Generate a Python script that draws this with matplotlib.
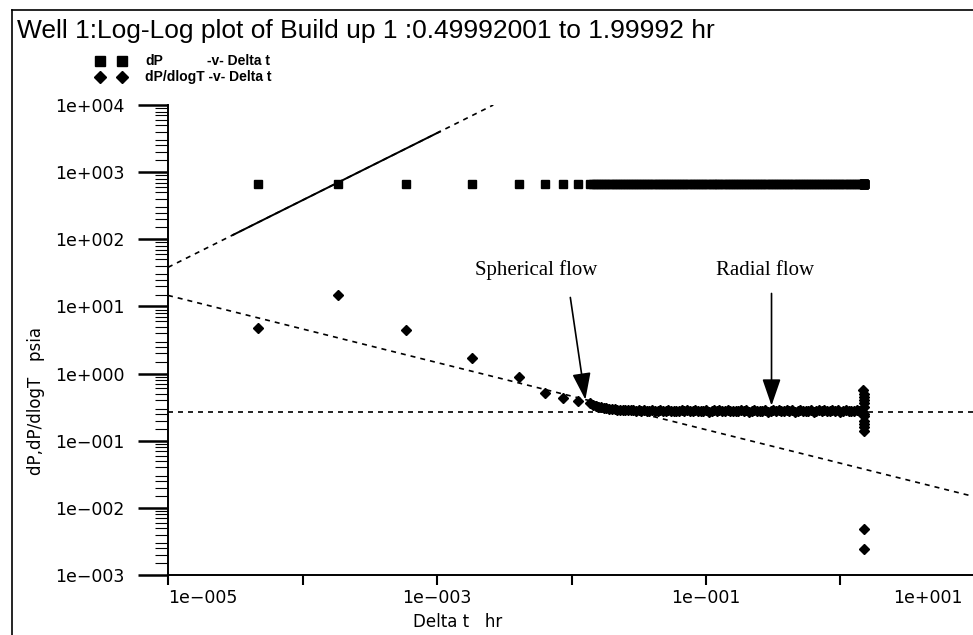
import matplotlib
matplotlib.use('Agg')
import matplotlib.pyplot as plt
from matplotlib.lines import Line2D
from matplotlib.ticker import FixedLocator, LogLocator, NullFormatter
import matplotlib.transforms as mtransforms

plt.rcParams['font.family'] = ['DejaVu Sans']

# 数据：早期采样点
t_early = [4.67e-5, 1.84e-4, 5.89e-4, 1.82e-3, 4.07e-3, 6.36e-3, 8.65e-3, 1.12e-2]
dp_early = [660, 660, 660, 660, 660, 660, 660, 660]
der_early = [4.7, 14.6, 4.4, 1.71, 0.90, 0.52, 0.44, 0.395]

# 后期密集采样点
t_late = [0.0138, 0.0145, 0.0151, 0.0158, 0.0166, 0.0174, 0.0182, 0.0190, 0.0199, 0.0209,
          0.0219, 0.0229, 0.0240, 0.0251, 0.0263, 0.0275, 0.0288, 0.0302, 0.0316, 0.0331,
          0.0347, 0.0363, 0.0380, 0.0398, 0.0417, 0.0437, 0.0457, 0.0479, 0.0501, 0.0525,
          0.0550, 0.0575, 0.0603, 0.0631, 0.0661, 0.0692, 0.0724, 0.0759, 0.0794, 0.0832,
          0.0871, 0.0912, 0.0955, 0.100, 0.105, 0.110, 0.115, 0.120, 0.126, 0.132,
          0.138, 0.145, 0.151, 0.158, 0.166, 0.174, 0.182, 0.191, 0.200, 0.209,
          0.219, 0.229, 0.240, 0.251, 0.263, 0.275, 0.288, 0.302, 0.316, 0.331,
          0.347, 0.363, 0.380, 0.398, 0.417, 0.437, 0.457, 0.479, 0.501, 0.525,
          0.550, 0.575, 0.603, 0.631, 0.661, 0.692, 0.724, 0.759, 0.794, 0.832,
          0.871, 0.912, 0.955, 1.00, 1.05, 1.10, 1.15, 1.20, 1.26, 1.32,
          1.38, 1.45]
der_late = [0.360, 0.345, 0.333, 0.322, 0.314, 0.308, 0.303, 0.299, 0.296, 0.293,
            0.290, 0.288, 0.286, 0.289, 0.284, 0.282, 0.286, 0.281, 0.284, 0.279,
            0.283, 0.277, 0.281, 0.285, 0.276, 0.280, 0.283, 0.275, 0.279, 0.284,
            0.277, 0.281, 0.274, 0.279, 0.285, 0.276, 0.282, 0.273, 0.280, 0.286,
            0.275, 0.281, 0.277, 0.284, 0.272, 0.279, 0.285, 0.276, 0.282, 0.274,
            0.280, 0.286, 0.275, 0.281, 0.273, 0.279, 0.285, 0.276, 0.283, 0.272,
            0.279, 0.286, 0.274, 0.281, 0.277, 0.284, 0.272, 0.280, 0.286, 0.275,
            0.282, 0.273, 0.279, 0.285, 0.276, 0.283, 0.272, 0.280, 0.286, 0.274,
            0.281, 0.277, 0.284, 0.272, 0.279, 0.285, 0.275, 0.282, 0.273, 0.280,
            0.286, 0.276, 0.283, 0.272, 0.279, 0.285, 0.274, 0.281, 0.277, 0.284,
            0.273, 0.280]
dp_late = [660] * len(t_late)

# 末端（1.5 hr 附近）
t_end = [1.48, 1.49, 1.49, 1.50, 1.50, 1.50, 1.50, 1.50, 1.50, 1.50, 1.50, 1.50, 1.49, 1.50]
der_end = [0.56, 0.50, 0.45, 0.40, 0.36, 0.32, 0.25, 0.23, 0.20, 0.18, 0.16, 0.14, 0.0049, 0.0024]
dp_end = [660] * len(t_end)

# 分析直线
storage_t = [1e-5, 2.62e-3]
storage_p = [38.2, 1e4]
storage_solid_t = [3.04e-5, 1.05e-3]
storage_solid_p = [116, 4010]
spherical_t = [1e-5, 10]
spherical_p = [14.6, 0.0146]
radial_t = [1e-5, 10]
radial_p = [0.27, 0.27]

fig = plt.figure(figsize=(9.73, 6.35), dpi=100)
ax = fig.add_axes([168 / 973, 60 / 635, 807 / 973, 470 / 635])

t_all = t_early + t_late + t_end
dp_all = dp_early + dp_late + dp_end
der_all = der_early + der_late + der_end

ax.plot(t_all, dp_all, ls='none', marker='s', ms=6.2, color='black', mec='black')
ax.plot(t_all, der_all, ls='none', marker='D', ms=5.5, color='black', mec='black')

ax.plot(storage_t, storage_p, ls=(0, (3, 3)), color='black', lw=1.2)
ax.plot(storage_solid_t, storage_solid_p, ls='-', color='black', lw=1.4)
ax.plot(spherical_t, spherical_p, ls=(0, (3, 3)), color='black', lw=1.2)
ax.plot(radial_t, radial_p, ls=(0, (3, 3)), color='black', lw=1.2)

ax.set_xscale('log')
ax.set_yscale('log')
ax.set_xlim(1e-5, 10)
ax.set_ylim(1e-3, 1e4)

# 坐标轴样式
for s in ['top', 'right']:
    ax.spines[s].set_visible(False)
for s in ['left', 'bottom']:
    ax.spines[s].set_linewidth(1.4)

xt = [1e-5, 1e-4, 1e-3, 1e-2, 1e-1, 1e0, 1e1]
xl = ['1e\u2212005', '', '1e\u2212003', '', '1e\u2212001', '', '1e+001']
ax.xaxis.set_major_locator(FixedLocator(xt))
ax.set_xticklabels(xl)
ax.xaxis.set_minor_locator(FixedLocator([]))
ax.tick_params(axis='x', which='major', direction='out', length=7, width=1.5,
               labelsize=12.5, pad=3)
xlabs = ax.get_xticklabels()
xlabs[0].set_ha('left')
xlabs[-1].set_ha('right')
xlabs[-1].set_transform(xlabs[-1].get_transform() +
                        mtransforms.ScaledTranslation(-12 / 100, 0, fig.dpi_scale_trans))

yt = [1e-3, 1e-2, 1e-1, 1e0, 1e1, 1e2, 1e3, 1e4]
yl = ['1e\u2212003', '1e\u2212002', '1e\u2212001', '1e+000', '1e+001', '1e+002', '1e+003', '1e+004']
ax.yaxis.set_major_locator(FixedLocator(yt))
ax.set_yticklabels(yl)
ax.yaxis.set_minor_locator(LogLocator(base=10, subs=[1.5, 2, 2.5, 3, 4, 5, 6, 7, 8, 9], numticks=20))
ax.yaxis.set_minor_formatter(NullFormatter())
ax.tick_params(axis='y', which='major', direction='out', length=21.5, width=1.8,
               labelsize=12.5, pad=10)
ax.tick_params(axis='y', which='minor', direction='out', length=9.5, width=0.8)

# 标注
ax.text(5.47e-3, 34.4, 'Spherical flow', family='Liberation Serif', fontsize=15,
        ha='center', va='center')
ax.text(0.277, 34.4, 'Radial flow', family='Liberation Serif', fontsize=15,
        ha='center', va='center')
arrow = dict(arrowstyle='-|>,head_length=1.1,head_width=0.38', color='black',
             lw=1.2, shrinkA=0, shrinkB=0, mutation_scale=15)
ax.annotate('', xy=(0.01268, 0.409), xytext=(0.0098, 13.6), arrowprops=arrow)
ax.annotate('', xy=(0.307, 0.333), xytext=(0.307, 15.6), arrowprops=arrow)

# 标题、图例、轴标签
fig.text(17 / 973, 1 - 31 / 635, 'Well 1:Log-Log plot of Build up 1 :0.49992001 to 1.99992 hr',
         family='Liberation Sans', fontsize=19, va='center', ha='left')
for x in [100 / 973, 122 / 973]:
    fig.add_artist(Line2D([x], [1 - 61 / 635], marker='s', ms=6.5, color='black',
                          transform=fig.transFigure))
    fig.add_artist(Line2D([x], [1 - 77 / 635], marker='D', ms=6, color='black',
                          transform=fig.transFigure))
fig.text(145 / 973, 1 - 61 / 635, 'dP', family='Liberation Sans', fontsize=10,
         weight='bold', va='center')
fig.text(207 / 973, 1 - 61 / 635, '-v- Delta t', family='Liberation Sans', fontsize=10,
         weight='bold', va='center')
fig.text(145 / 973, 1 - 77 / 635, 'dP/dlogT -v- Delta t', family='Liberation Sans',
         fontsize=10, weight='bold', va='center')

fig.text(36 / 973, 1 - 401 / 635, 'dP,dP/dlogT   psia', rotation=90, fontsize=12,
         ha='center', va='center')
fig.text(413 / 973, 1 - 622 / 635, 'Delta t   hr', fontsize=12, ha='left', va='center')

# 外框
fig.add_artist(Line2D([12 / 973, 12 / 973], [0, 1 - 10 / 635], color='black', lw=1.2,
                      transform=fig.transFigure))
fig.add_artist(Line2D([12 / 973, 1], [1 - 10 / 635, 1 - 10 / 635], color='black', lw=1.2,
                      transform=fig.transFigure))

plt.savefig('out.png', dpi=100)
